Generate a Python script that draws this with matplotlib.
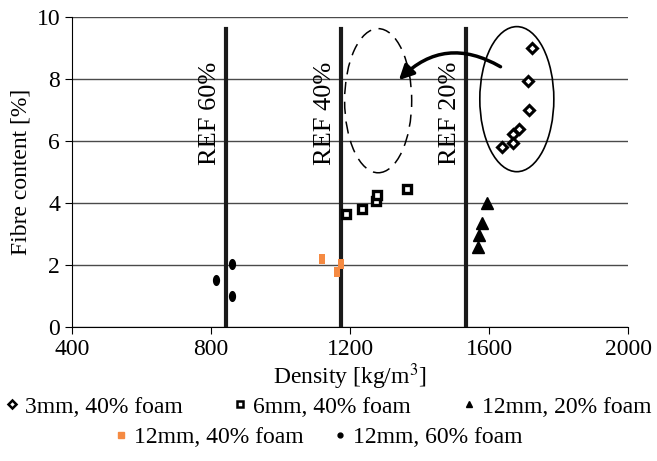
import matplotlib
matplotlib.use("Agg")
import matplotlib.pyplot as plt
import numpy as np
from matplotlib.patches import Ellipse
from matplotlib.lines import Line2D
from matplotlib.path import Path

# data
dens_3mm40 = [1725, 1713, 1715, 1687, 1668, 1668, 1638]
fib_3mm40 = [9.01, 7.94, 7.01, 6.40, 6.23, 5.95, 5.81]
dens_6mm40 = [1188, 1234, 1274, 1278, 1363]
fib_6mm40 = [3.65, 3.82, 4.06, 4.27, 4.44]
dens_12mm20 = [1595, 1580, 1571, 1569]
fib_12mm20 = [3.99, 3.36, 2.97, 2.57]
dens_12mm40 = [1120, 1174, 1162]
fib_12mm40 = [2.19, 2.03, 1.78]
dens_12mm60 = [860, 813, 861]
fib_12mm60 = [2.03, 1.52, 1.00]

ref_dens = [843, 1173, 1534]
ref_labels = ["REF 60%", "REF 40%", "REF 20%"]

plt.rcParams['font.family'] = ['Liberation Serif', 'DejaVu Serif']
plt.rcParams['mathtext.fontset'] = 'stix'

orange = '#F58A42'

# elongated markers (ellipse, tall rectangle)
t = np.linspace(0, 2 * np.pi, 40)
ellipse_marker = Path(np.column_stack([0.65 * np.cos(t), np.sin(t)]), closed=True)
rect_marker = [(-0.6, -1), (0.6, -1), (0.6, 1), (-0.6, 1), (-0.6, -1)]

fig = plt.figure(figsize=(6.57, 4.61), dpi=100)
ax = fig.add_axes([0.1096, 0.2907, 0.8463, 0.6724])

ax.set_xlim(400, 2000)
ax.set_ylim(0, 10)
ax.set_xticks([400, 800, 1200, 1600, 2000])
ax.set_yticks([0, 2, 4, 6, 8, 10])
ax.yaxis.grid(True, color='#4a4a4a', lw=1)
ax.set_axisbelow(True)
for s in ['top', 'right']:
    ax.spines[s].set_visible(False)
ax.tick_params(labelsize=17, direction='out', length=5, color='black')
ax.set_xlabel('Density [kg/m$^3$]', fontsize=17, labelpad=1)
ax.set_ylabel('Fibre content [%]', fontsize=17, labelpad=4)

# reference lines
for xd, lab in zip(ref_dens, ref_labels):
    ax.plot([xd, xd], [0, 9.6], color='#1a1a1a', lw=3, zorder=3)
    ax.text(xd - 46, 6.9, lab, rotation=90, fontsize=19,
            ha='center', va='center', zorder=4)

ax.plot(dens_3mm40, fib_3mm40, ls='', marker='D', ms=5.5, mfc='white',
        mec='black', mew=2.2, zorder=5)
ax.plot(dens_6mm40, fib_6mm40, ls='', marker='s', ms=5.5, mfc='white',
        mec='black', mew=2.4, zorder=5)
ax.plot(dens_12mm20, fib_12mm20, ls='', marker='^', ms=8, color='black',
        zorder=5)
ax.plot(dens_12mm40, fib_12mm40, ls='', marker=rect_marker, ms=7.5,
        color=orange, mew=0, zorder=5)
ax.plot(dens_12mm60, fib_12mm60, ls='', marker=ellipse_marker, ms=8,
        color='black', mew=0, zorder=5)

# annotations: ellipses and curved arrow
ax.add_patch(Ellipse((1680, 7.35), 213, 4.68, fill=False, lw=1.2,
                     color='black', zorder=6))
ax.add_patch(Ellipse((1281, 7.3), 193, 4.65, fill=False, lw=1.1,
                     color='black', ls=(0, (8, 5)), zorder=6))
ax.annotate('', xy=(1335, 7.9), xytext=(1640, 8.35),
            arrowprops=dict(arrowstyle='-|>', connectionstyle='arc3,rad=0.4',
                            lw=2.5, color='black', mutation_scale=22),
            zorder=6)

# legend in two rows
h1 = [Line2D([], [], ls='', marker='D', ms=4.5, mfc='white', mec='black', mew=1.8),
      Line2D([], [], ls='', marker='s', ms=5, mfc='white', mec='black', mew=1.8),
      Line2D([], [], ls='', marker='^', ms=5, color='black')]
l1 = ['3mm, 40% foam', '6mm, 40% foam', '12mm, 20% foam']
h2 = [Line2D([], [], ls='', marker='s', ms=4.5, color=orange),
      Line2D([], [], ls='', marker='o', ms=3.5, color='black')]
l2 = ['12mm, 40% foam', '12mm, 60% foam']

kw = dict(frameon=False, fontsize=17, handlelength=0.5, handletextpad=0.3,
          borderaxespad=0, borderpad=0)
leg1 = fig.legend(h1, l1, ncol=3, loc='center', columnspacing=2.2,
                  bbox_to_anchor=(0.5, 1 - 407 / 461), **kw)
leg2 = fig.legend(h2, l2, ncol=2, loc='center', columnspacing=1.3,
                  bbox_to_anchor=(0.485, 1 - 437 / 461), **kw)

fig.savefig('out.png', dpi=100)
